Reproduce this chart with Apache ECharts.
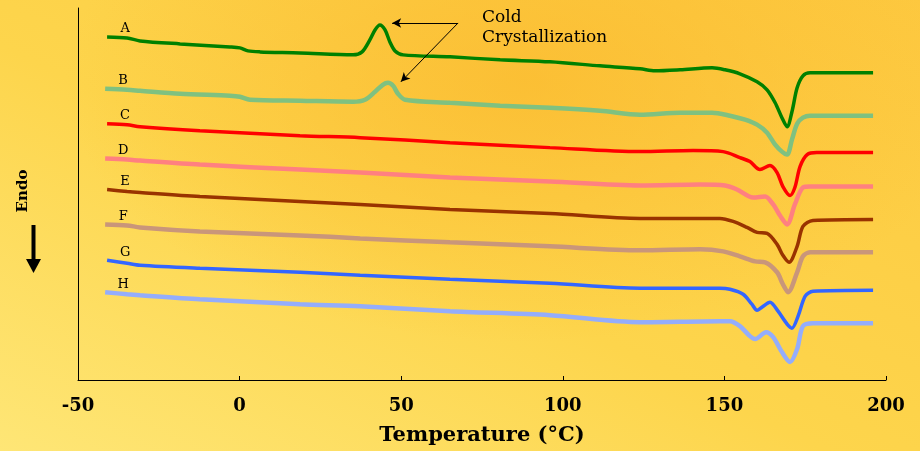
<!DOCTYPE html>
<html>
<head>
<meta charset="utf-8">
<script src="https://cdn.jsdelivr.net/npm/echarts@6/dist/echarts.min.js"></script>
<style>
  html, body { margin: 0; padding: 0; }
  #chart {
    width: 920px; height: 451px;
    background:
      radial-gradient(ellipse 50% 58% at 57% 18%, rgba(250,180,40,0.6) 0%, rgba(250,180,40,0) 100%),
      linear-gradient(to top right, #fee676 0%, #fdd54c 45%, #fdc940 100%);
  }
</style>
</head>
<body>
<div id="chart"></div>
<script>
// DSC heating traces, temperature (°C) vs. heat flow (arbitrary units, curves offset)
const curveA = [[-41.0,344],[-34.8,343],[-30.8,340],[-18.4,337],[-3.0,334],[0.1,333],[2.6,330],[6.3,329],[18.7,328],[35.1,326],[37.9,329],[40.3,341],[41.9,351],[43.4,356],[45.0,351],[46.5,339],[48.1,330],[50.6,326],[65.1,324],[80.6,321],[96.0,319],[111.5,315],[123.9,312],[128.5,310],[136.3,311],[146.2,313],[150.2,311],[154.8,307],[160.1,299],[163.2,291],[165.7,278],[167.8,263],[169.4,254],[170.9,269],[172.5,293],[174.3,305],[176.5,308],[185.8,308],[196.0,308]];
const curveB = [[-41.6,292],[-34.8,291],[-30.8,290],[-18.4,287],[-3.0,285],[0.1,284],[3.2,281],[18.7,280],[35.1,279],[38.8,281],[41.9,289],[44.3,296],[45.9,298],[47.5,295],[49.0,287],[51.2,281],[65.1,278],[80.6,275],[96.0,273],[111.5,270],[123.9,266],[136.3,268],[146.2,268],[151.7,265],[156.4,261],[160.1,256],[163.2,248],[165.7,236],[167.8,229],[169.4,226],[170.9,241],[172.5,257],[174.3,263],[176.5,265],[185.8,265],[196.0,265]];
const curveC = [[-41.0,257],[-34.8,256],[-30.8,254],[-12.3,250],[18.7,245],[37.3,243],[65.1,238],[96.0,233],[123.9,229],[140.3,230],[149.6,229],[154.8,223],[157.9,219],[161.0,211],[164.1,215],[166.3,208],[168.1,194],[170.3,185],[171.8,193],[173.4,214],[175.6,226],[178.6,228],[196.0,228]];
const curveD = [[-41.6,222],[-34.8,221],[-30.8,220],[-12.3,216],[18.7,211],[37.3,208],[65.1,203],[96.0,199],[123.9,195],[142.5,196],[150.2,195],[153.9,191],[158.9,183],[162.6,184],[165.1,176],[167.2,165],[169.4,156],[171.8,176],[174.3,193],[176.5,194],[196.0,194]];
const curveE = [[-41.0,191],[-34.8,189],[-30.8,188],[-12.3,184],[18.7,179],[37.3,176],[65.1,171],[96.0,167],[123.9,162],[148.6,162],[152.7,159],[157.0,153],[160.1,148],[163.2,147],[166.3,136],[168.1,125],[170.0,118],[172.5,134],[174.3,154],[177.4,160],[196.0,161]];
const curveF = [[-41.6,156],[-34.8,155],[-30.8,153],[-12.3,149],[18.7,145],[37.3,142],[65.1,138],[96.0,134],[123.9,130],[142.5,131],[149.6,129],[154.8,124],[159.5,119],[162.6,118],[166.3,108],[168.1,96],[169.7,88],[172.5,108],[174.3,124],[176.5,128],[196.0,128]];
const curveG = [[-41.0,120],[-34.8,117],[-30.8,115],[-12.3,112],[18.7,108],[37.3,105],[65.1,101],[96.0,97],[123.9,92],[148.6,92],[151.7,91],[155.8,86],[158.5,76],[160.1,70],[161.6,73],[164.1,78],[166.6,69],[169.4,56],[170.9,52],[172.8,64],[175.0,84],[177.4,89],[196.0,90]];
const curveH = [[-41.6,88],[-34.8,86],[-30.8,85],[-12.3,81],[18.7,76],[37.3,74],[65.1,69],[96.0,65],[123.9,58],[148.6,59],[151.7,59],[154.8,54],[157.9,44],[159.5,41],[162.9,48],[165.1,43],[167.8,28],[170.3,18],[172.5,31],[174.3,54],[177.4,57],[196.0,57]];

const curveNames = ['A','B','C','D','E','F','G','H'];
const curveData = [curveA, curveB, curveC, curveD, curveE, curveF, curveG, curveH];
const curveColors = ['#008000','#7fc180','#ff0000','#ff8080','#993300','#c9967a','#3366ff','#94adfb'];
const curveWidths = [3.5, 4.5, 3.5, 4.5, 3.5, 4.5, 3.5, 4.5];

const xTicks = [-50, 0, 50, 100, 150, 200];

// arrows pointing from the annotation to the cold-crystallization exotherms
const arrowFrom = [67.6, 358];
const arrowTargets = [[47.2, 358], [49.9, 299]];

const FONT = '"DejaVu Serif", "Liberation Serif", serif';

const chart = echarts.init(document.getElementById('chart'), null, { renderer: 'canvas' });

const series = curveData.map((pts, i) => {
  const s = {
    name: curveNames[i],
    type: 'line',
    data: pts,
    smooth: 0.3,
    symbol: 'none',
    lineStyle: { color: curveColors[i], width: curveWidths[i] },
    itemStyle: { color: curveColors[i] },
    z: 3,
    markPoint: {
      symbol: 'circle',
      symbolSize: 0,
      silent: true,
      data: [{ coord: pts[0] }],
      label: {
        show: true,
        formatter: curveNames[i],
        position: 'inside',
        offset: [18, -8],
        color: '#000',
        fontFamily: FONT,
        fontSize: 13
      }
    }
  };
  if (i === 0) {
    s.markLine = {
      silent: true,
      symbol: ['none', 'arrow'],
      symbolSize: [7, 9],
      label: { show: false },
      lineStyle: { color: '#000', width: 1, type: 'solid' },
      data: arrowTargets.map(t => [{ coord: arrowFrom }, { coord: t }])
    };
  }
  return s;
});

chart.setOption({
  animation: false,
  backgroundColor: 'transparent',
  grid: { left: 78, right: 34, top: 8, bottom: 70 },
  xAxis: {
    type: 'value',
    min: xTicks[0],
    max: xTicks[xTicks.length - 1],
    interval: 50,
    name: 'Temperature (°C)',
    nameLocation: 'middle',
    nameGap: 45,
    nameTextStyle: { color: '#000', fontFamily: FONT, fontSize: 21, fontWeight: 'bold' },
    axisLine: { show: true, onZero: false, lineStyle: { color: '#000', width: 1 } },
    axisTick: { show: true, inside: true, length: 4, lineStyle: { color: '#000' } },
    axisLabel: { color: '#000', fontFamily: FONT, fontSize: 18, fontWeight: 'bold', margin: 17 },
    splitLine: { show: false }
  },
  yAxis: {
    type: 'value',
    min: 0,
    max: 373,
    axisLine: { show: true, onZero: false, lineStyle: { color: '#000', width: 1 } },
    axisTick: { show: false },
    axisLabel: { show: false },
    splitLine: { show: false }
  },
  graphic: [
    {
      type: 'text',
      left: 482,
      top: 8,
      style: {
        text: 'Cold\nCrystallization',
        fill: '#000',
        font: '17px ' + FONT,
        lineHeight: 20
      }
    },
    {
      type: 'text',
      x: 23,
      y: 191,
      rotation: Math.PI / 2,
      style: {
        text: 'Endo',
        fill: '#000',
        font: 'bold 15px ' + FONT,
        textAlign: 'center',
        textVerticalAlign: 'middle'
      }
    },
    {
      type: 'line',
      shape: { x1: 33.5, y1: 225, x2: 33.5, y2: 262 },
      style: { stroke: '#000', lineWidth: 4 }
    },
    {
      type: 'polygon',
      shape: { points: [[26, 259], [41, 259], [33.5, 273]] },
      style: { fill: '#000' }
    }
  ],
  series: series
});
</script>
</body>
</html>
